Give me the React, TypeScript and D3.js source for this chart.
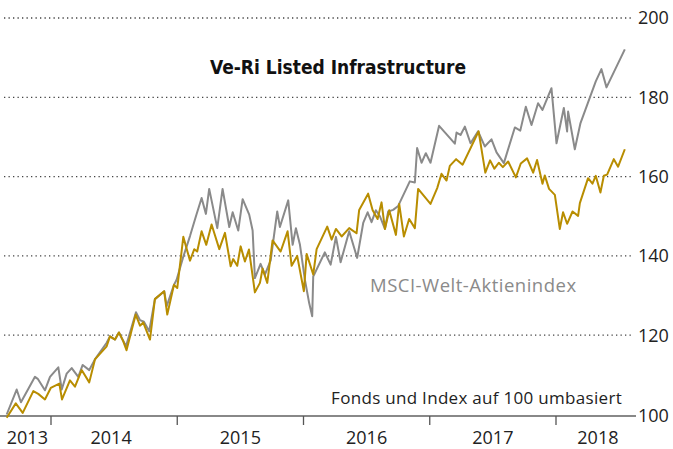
import React from "react";
import * as d3 from "d3";

// MSCI-Welt-Aktienindex (decimal year, value)
const msciDates = [
  2013.649, 2013.728, 2013.762, 2013.873, 2013.895, 2013.952, 2013.992, 2014.058, 2014.085, 2014.124,
  2014.164, 2014.216, 2014.251, 2014.303, 2014.348, 2014.441, 2014.467, 2014.507, 2014.538, 2014.594,
  2014.673, 2014.705, 2014.736, 2014.778, 2014.823, 2014.897, 2014.916, 2014.974, 2014.995, 2015.045,
  2015.101, 2015.148, 2015.193, 2015.227, 2015.253, 2015.317, 2015.359, 2015.412, 2015.439, 2015.483,
  2015.518, 2015.570, 2015.597, 2015.615, 2015.660, 2015.694, 2015.740, 2015.792, 2015.813, 2015.879,
  2015.914, 2015.940, 2015.972, 2016.011, 2016.045, 2016.069, 2016.077, 2016.169, 2016.215, 2016.257,
  2016.294, 2016.362, 2016.425, 2016.473, 2016.508, 2016.539, 2016.573, 2016.605, 2016.645, 2016.671,
  2016.710, 2016.750, 2016.842, 2016.882, 2016.900, 2016.935, 2016.969, 2017.006, 2017.074, 2017.199,
  2017.212, 2017.244, 2017.278, 2017.323, 2017.383, 2017.436, 2017.489, 2017.529, 2017.587, 2017.674,
  2017.717, 2017.761, 2017.806, 2017.858, 2017.893, 2017.964, 2018.004, 2018.062, 2018.088, 2018.096,
  2018.149, 2018.194, 2018.315, 2018.360, 2018.400, 2018.545,
];
const msciValues = [
  100, 106.3, 103.1, 109.5, 109, 106.1, 109.5, 111.9, 106.3, 110.3,
  111.7, 109.5, 112.5, 111.2, 113.9, 118.1, 119.7, 118.9, 120.7, 117.2,
  125.8, 123.8, 123.4, 121, 129.1, 131.1, 127.3, 132.7, 134, 139.5,
  145, 150, 154.6, 150.6, 156.9, 147, 156.9, 147.3, 151, 146.4,
  154.3, 150.4, 146.4, 134.4, 138, 135.3, 138.9, 151.2, 147.3, 154,
  142.8, 147, 142.8, 134, 128.1, 124.8, 134.8, 140.9, 137.8, 144.8,
  138.4, 146.2, 139.5, 148.3, 151, 148.5, 151.5, 150, 146.8, 151.2,
  151.6, 152.6, 158.8, 158.5, 167.2, 163.5, 165.9, 163.5, 172.8, 168.3,
  171.1, 170.5, 172.6, 168.4, 171.4, 167.6, 169.4, 166.1, 163.4, 172.4,
  171.6, 177.6, 173, 178.5, 176.8, 182.3, 168.4, 177.3, 171.4, 176.4,
  166.9, 173.5, 184, 187.1, 182.5, 192.1,
];

// Ve-Ri Listed Infrastructure fund (decimal year, value)
const fundDates = [
  2013.649, 2013.721, 2013.776, 2013.860, 2013.899, 2013.952, 2013.998, 2014.066, 2014.087, 2014.150,
  2014.190, 2014.243, 2014.303, 2014.348, 2014.441, 2014.467, 2014.507, 2014.538, 2014.572, 2014.598,
  2014.671, 2014.705, 2014.731, 2014.784, 2014.823, 2014.896, 2014.921, 2014.974, 2015.000, 2015.048,
  2015.101, 2015.135, 2015.158, 2015.193, 2015.230, 2015.272, 2015.333, 2015.378, 2015.423, 2015.443,
  2015.475, 2015.502, 2015.536, 2015.568, 2015.615, 2015.655, 2015.676, 2015.713, 2015.755, 2015.819,
  2015.874, 2015.906, 2015.950, 2016.003, 2016.025, 2016.077, 2016.104, 2016.188, 2016.223, 2016.257,
  2016.302, 2016.362, 2016.420, 2016.441, 2016.512, 2016.547, 2016.587, 2016.618, 2016.645, 2016.679,
  2016.732, 2016.758, 2016.795, 2016.837, 2016.882, 2016.908, 2017.006, 2017.059, 2017.093, 2017.133,
  2017.159, 2017.209, 2017.260, 2017.387, 2017.440, 2017.478, 2017.512, 2017.547, 2017.579, 2017.621,
  2017.682, 2017.721, 2017.771, 2017.819, 2017.850, 2017.893, 2017.911, 2017.945, 2017.991, 2018.030,
  2018.056, 2018.088, 2018.131, 2018.175, 2018.189, 2018.254, 2018.289, 2018.315, 2018.352, 2018.379,
  2018.405, 2018.458, 2018.492, 2018.545,
];
const fundValues = [
  99.2, 102.8, 100.4, 105.9, 105.2, 103.8, 106.7, 107.8, 103.8, 108.6,
  107, 111.2, 108.1, 113.9, 117.2, 119.7, 118.9, 120.7, 118.5, 116.2,
  125.2, 122.4, 123.2, 118.9, 129.1, 131.1, 125.2, 132.7, 131.9, 144.8,
  138.8, 141.7, 141.1, 146.2, 142.8, 147.9, 141.7, 145.8, 137.4, 139.2,
  137.5, 142.4, 138.6, 141.6, 130.8, 133.2, 136.8, 133.2, 143.9, 141.1,
  146.2, 137.5, 140, 131.1, 140.5, 135.3, 141.7, 147.4, 144.1, 146.8,
  144.9, 147, 145.7, 151.6, 155.7, 151.6, 149.3, 153.5, 146.8, 151.5,
  145.3, 153.1, 144.9, 149.3, 147, 156.9, 153.1, 157.1, 160.7, 159,
  162.7, 164.4, 163, 171.4, 161, 164.1, 162, 163.5, 162.4, 163.8,
  159.8, 163.3, 164.6, 161, 164.2, 158.2, 160.3, 156.9, 155.4, 146.8,
  151, 148.1, 151.2, 150.1, 153.3, 159.6, 158.2, 160.2, 156, 160.2,
  160.5, 164.4, 162.5, 166.9,
];

const yTicks = [100, 120, 140, 160, 180, 200];
const yearTicks = [2014, 2015, 2016, 2017, 2018];
const yearLabels = ["2013", "2014", "2015", "2016", "2017", "2018"];

const title = "Ve-Ri Listed Infrastructure";
const msciLabel = "MSCI-Welt-Aktienindex";
const note = "Fonds und Index auf 100 umbasiert";

const W = 673;
const H = 449;

export default function App() {
  const x = d3.scaleLinear().domain([2014, 2018]).range([51, 556]);
  const y = d3.scaleLinear().domain([100, 200]).range([414.5, 18]);
  const xStart = 0;
  const xEnd = 636;
  const baseY = 416;

  const line = d3
    .line<[number, number]>()
    .x((d) => x(d[0]))
    .y((d) => y(d[1]));

  const msci: [number, number][] = msciDates.map((d, i) => [d, msciValues[i]]);
  const fund: [number, number][] = fundDates.map((d, i) => [d, fundValues[i]]);

  const firstX = x(msciDates[0]);
  const lastX = x(msciDates[msciDates.length - 1]);
  const bounds = [firstX - 3, ...yearTicks.map((t) => x(t)), lastX + 15];
  const labelX = yearLabels.map((_, i) => (bounds[i] + bounds[i + 1]) / 2);
  labelX[1] -= 3;
  const font = "'Open Sans', 'DejaVu Sans', sans-serif";

  return (
    <svg
      width={W}
      height={H}
      style={{ position: "absolute", left: 0, top: 0, background: "#fff" }}
      fontFamily={font}
    >
      {yTicks
        .filter((t) => t !== 100)
        .map((t) => (
          <line
            key={t}
            x1={4}
            x2={632}
            y1={y(t)}
            y2={y(t)}
            stroke="#444"
            strokeWidth={1.3}
            strokeDasharray="1.3 3.2"
          />
        ))}
      {yTicks.map((t) => (
        <text
          key={"l" + t}
          x={638}
          y={t === 100 ? baseY : y(t)}
          dy="0.35em"
          fontSize={18}
          fill="#222"
        >
          {t}
        </text>
      ))}
      <line x1={xStart} x2={xEnd} y1={baseY} y2={baseY} stroke="#888" strokeWidth={2} />
      {yearTicks.map((t) => (
        <line key={"t" + t} x1={x(t)} x2={x(t)} y1={baseY} y2={baseY + 9} stroke="#555" strokeWidth={1.3} />
      ))}
      {yearLabels.map((lab, i) => (
        <text key={lab} x={labelX[i]} y={444} textAnchor="middle" fontSize={18} fill="#222">
          {lab}
        </text>
      ))}
      <path d={line(msci) || ""} fill="none" stroke="#8a8a8a" strokeWidth={2} strokeLinejoin="round" />
      <path d={line(fund) || ""} fill="none" stroke="#b88d00" strokeWidth={2} strokeLinejoin="round" />
      <text
        x={338}
        y={74}
        textAnchor="middle"
        fontSize={19}
        fontWeight="bold"
        fill="#111"
        fontFamily="'DejaVu Sans Condensed', 'DejaVu Sans', sans-serif"
      >
        {title}
      </text>
      <text x={370} y={292} fontSize={18.5} letterSpacing={0.5} fill="#8a8a8a">
        {msciLabel}
      </text>
      <text x={622} y={404} textAnchor="end" fontSize={17} letterSpacing={0.3} fill="#222">
        {note}
      </text>
    </svg>
  );
}
